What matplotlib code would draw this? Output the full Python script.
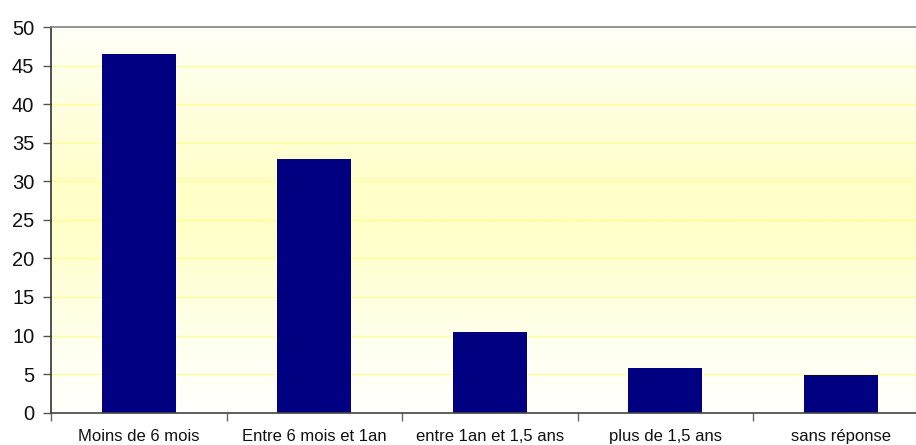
import numpy as np
import matplotlib
matplotlib.use("Agg")
import matplotlib.pyplot as plt
from matplotlib.colors import LinearSegmentedColormap

categories = ["Moins de 6 mois", "Entre 6 mois et 1an", "entre 1an et 1,5 ans",
              "plus de 1,5 ans", "sans réponse"]
values = [46.5, 32.9, 10.5, 5.8, 4.9]
yticks = [0, 5, 10, 15, 20, 25, 30, 35, 40, 45, 50]

plt.rcParams['font.family'] = ['Liberation Sans', 'DejaVu Sans']

fig = plt.figure(figsize=(9.16, 4.45), dpi=100)
ax = fig.add_axes([51/916, 32.3/445, 877.5/916, 385.7/445])

n = len(categories)
x = np.arange(n)
ax.set_xlim(-0.5, n - 0.5)
ax.set_ylim(0, 50)

# background gradient
cmap = LinearSegmentedColormap.from_list(
    "bg", [(0, "#FFFFF8"), (0.42, "#FFFFC8"), (0.52, "#FFFFC8"), (0.85, "#FFFFF2"), (1, "#FFFFFC")])
grad = np.linspace(0, 1, 256).reshape(-1, 1)
ax.imshow(grad, aspect="auto", cmap=cmap, extent=(-0.5, n - 0.5, 0, 50),
          origin="upper", zorder=0)

for t in yticks[1:-1]:
    ax.axhline(t, color="#FFFF99", lw=1.0, zorder=1)

ax.bar(x, values, width=0.42, color="#000080", zorder=2)

ax.set_yticks(yticks)
ax.set_yticklabels([str(t) for t in yticks], fontsize=14.5, color="#111111")
ax.tick_params(axis="y", direction="out", length=6, width=1, color="#555555", pad=6)

ax.set_xticks(np.arange(-0.5, n + 0.5, 1.0))
ax.set_xticklabels([])
ax.tick_params(axis="x", which="major", direction="out", length=6, width=1, color="#666666")
ax.set_xticks(x, minor=True)
ax.set_xticklabels(categories, minor=True, fontsize=12, color="#111111")
ax.tick_params(axis="x", which="minor", length=0, pad=11.5)

for side in ["top", "bottom", "left"]:
    ax.spines[side].set_linewidth(1.2)
ax.spines["top"].set_color("#808080")
ax.spines["left"].set_color("#333333")
ax.spines["bottom"].set_color("#444444")
ax.spines["right"].set_visible(False)

fig.savefig("out.png", dpi=100)
